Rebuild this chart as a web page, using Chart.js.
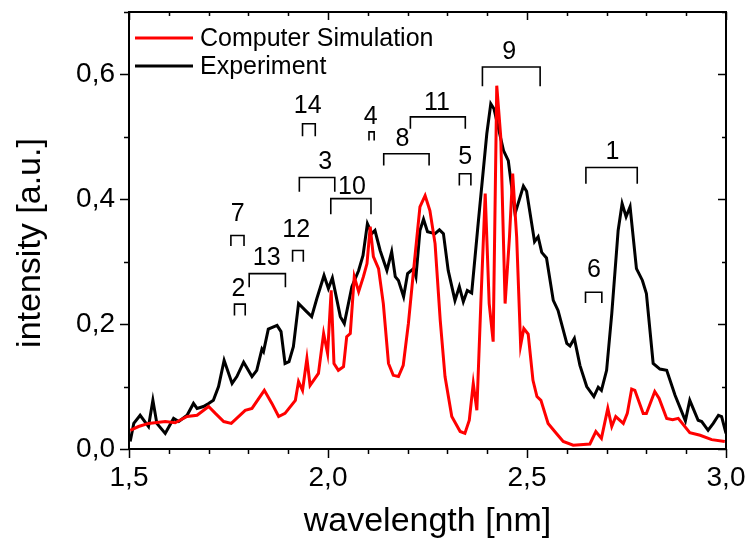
<!DOCTYPE html>
<html>
<head>
<meta charset="utf-8">
<script src="https://cdn.jsdelivr.net/npm/chart.js@4.4.1/dist/chart.umd.min.js"></script>
<style>
  html, body { margin: 0; padding: 0; background: #fff; }
  #wrap { width: 749px; height: 552px; }
</style>
</head>
<body>
<div id="wrap"><canvas id="spectrum" width="749" height="552"></canvas></div>
<script>
// Spectrum data
var simWavelength = [1.503, 1.524, 1.549, 1.591, 1.616, 1.646, 1.671, 1.700, 1.717, 1.738, 1.757, 1.792, 1.809, 1.840,
  1.859, 1.876, 1.892, 1.918, 1.926, 1.936, 1.947, 1.955, 1.976, 1.989, 1.999, 2.008, 2.015, 2.026, 2.039, 2.047,
  2.056, 2.066, 2.077, 2.089, 2.098, 2.106, 2.114, 2.127, 2.139, 2.152, 2.164, 2.177, 2.189, 2.202, 2.215, 2.231,
  2.244, 2.256, 2.269, 2.282, 2.294, 2.311, 2.332, 2.344, 2.355, 2.365, 2.374, 2.384, 2.395, 2.405, 2.415, 2.424,
  2.434, 2.445, 2.456, 2.464, 2.474, 2.484, 2.492, 2.503, 2.515, 2.525, 2.535, 2.553, 2.575, 2.591, 2.616, 2.658,
  2.673, 2.687, 2.703, 2.713, 2.723, 2.742, 2.752, 2.763, 2.771, 2.792, 2.800, 2.821, 2.832, 2.851, 2.866, 2.880,
  2.909, 2.935, 2.964, 2.997];
var simIntensity = [0.030, 0.036, 0.041, 0.044, 0.042, 0.052, 0.054, 0.068, 0.057, 0.044, 0.041, 0.062, 0.065, 0.094,
  0.073, 0.052, 0.057, 0.078, 0.108, 0.094, 0.145, 0.102, 0.121, 0.185, 0.153, 0.254, 0.137, 0.126, 0.132, 0.180,
  0.185, 0.276, 0.252, 0.276, 0.297, 0.356, 0.308, 0.289, 0.233, 0.137, 0.118, 0.116, 0.134, 0.201, 0.286, 0.388,
  0.406, 0.382, 0.329, 0.206, 0.116, 0.052, 0.028, 0.025, 0.046, 0.105, 0.062, 0.233, 0.409, 0.233, 0.172, 0.582,
  0.500, 0.233, 0.340, 0.441, 0.340, 0.166, 0.193, 0.184, 0.110, 0.084, 0.078, 0.041, 0.024, 0.012, 0.006, 0.008,
  0.028, 0.017, 0.065, 0.036, 0.052, 0.041, 0.057, 0.096, 0.094, 0.057, 0.057, 0.092, 0.081, 0.049, 0.047, 0.049,
  0.026, 0.022, 0.015, 0.012];

var expWavelength = [1.503, 1.512, 1.528, 1.549, 1.560, 1.570, 1.591, 1.612, 1.625, 1.646, 1.662, 1.671, 1.687, 1.700,
  1.712, 1.725, 1.739, 1.759, 1.771, 1.788, 1.809, 1.821, 1.834, 1.838, 1.850, 1.872, 1.882, 1.892, 1.902, 1.913,
  1.926, 1.943, 1.959, 1.972, 1.990, 2.001, 2.011, 2.031, 2.041, 2.060, 2.077, 2.088, 2.099, 2.110, 2.118, 2.131,
  2.148, 2.160, 2.169, 2.177, 2.190, 2.200, 2.215, 2.221, 2.231, 2.240, 2.250, 2.269, 2.280, 2.290, 2.302, 2.319,
  2.330, 2.340, 2.350, 2.361, 2.378, 2.399, 2.409, 2.417, 2.441, 2.453, 2.470, 2.491, 2.499, 2.519, 2.528, 2.537,
  2.549, 2.566, 2.578, 2.600, 2.608, 2.619, 2.633, 2.650, 2.668, 2.679, 2.687, 2.700, 2.713, 2.729, 2.739, 2.749,
  2.759, 2.775, 2.790, 2.800, 2.817, 2.834, 2.851, 2.872, 2.898, 2.909, 2.930, 2.939, 2.955, 2.968, 2.981, 2.989,
  3.000];
var expIntensity = [0.012, 0.041, 0.054, 0.036, 0.078, 0.041, 0.025, 0.049, 0.044, 0.054, 0.073, 0.065, 0.068, 0.073,
  0.078, 0.100, 0.142, 0.105, 0.116, 0.139, 0.116, 0.126, 0.160, 0.156, 0.192, 0.198, 0.188, 0.137, 0.140, 0.164,
  0.233, 0.222, 0.212, 0.241, 0.278, 0.257, 0.274, 0.212, 0.201, 0.260, 0.286, 0.310, 0.361, 0.345, 0.350, 0.318,
  0.286, 0.316, 0.276, 0.270, 0.244, 0.281, 0.289, 0.276, 0.350, 0.368, 0.348, 0.345, 0.351, 0.345, 0.286, 0.238,
  0.260, 0.236, 0.254, 0.250, 0.366, 0.505, 0.553, 0.545, 0.478, 0.462, 0.377, 0.421, 0.413, 0.332, 0.340, 0.315,
  0.306, 0.238, 0.222, 0.169, 0.165, 0.177, 0.134, 0.100, 0.084, 0.099, 0.094, 0.126, 0.217, 0.350, 0.393, 0.372,
  0.388, 0.289, 0.270, 0.249, 0.137, 0.128, 0.126, 0.086, 0.045, 0.078, 0.046, 0.044, 0.030, 0.041, 0.054, 0.052,
  0.025];

var seriesNames = ['Computer Simulation', 'Experiment'];
var xTicks = [1.5, 2.0, 2.5, 3.0];
var yTicks = [0.0, 0.2, 0.4, 0.6];

// transition brackets: label, start/end wavelength, top intensity, leg end, label position
var bracketLabel = ['14', '4', '3', '10', '8', '11', '5', '7', '12', '13', '2', '9', '1', '6'];
var bracketStart = [1.936, 2.103, 1.928, 2.007, 2.140, 2.207, 2.330, 1.756, 1.911, 1.802, 1.765, 2.388, 2.648, 2.647];
var bracketEnd = [1.968, 2.116, 2.017, 2.108, 2.254, 2.345, 2.359, 1.789, 1.938, 1.893, 1.792, 2.533, 2.777, 2.688];
var bracketTop = [0.521, 0.508, 0.435, 0.401, 0.473, 0.532, 0.441, 0.342, 0.318, 0.281, 0.232, 0.612, 0.451, 0.251];
var bracketBase = [0.501, 0.494, 0.412, 0.376, 0.454, 0.513, 0.422, 0.325, 0.300, 0.259, 0.214, 0.581, 0.425, 0.234];
var labelX = [1.949, 2.107, 1.993, 2.060, 2.187, 2.274, 2.345, 1.773, 1.920, 1.846, 1.775, 2.455, 2.715, 2.668];
var labelY = [0.549, 0.532, 0.460, 0.420, 0.497, 0.554, 0.468, 0.376, 0.350, 0.305, 0.256, 0.635, 0.476, 0.286];

var FONT = '"Liberation Sans", Arial, sans-serif';

function toPoints(xs, ys) {
  return xs.map(function (x, i) { return { x: x, y: ys[i] }; });
}

function commaLabel(v) {
  return v.toFixed(1).replace('.', ',');
}

// box frame with outside ticks bottom/left and mirrored inside ticks top/right
var frameTicks = {
  id: 'frameTicks',
  afterDraw: function (chart) {
    var ctx = chart.ctx, a = chart.chartArea;
    var xs = chart.scales.x, ys = chart.scales.y;
    ctx.save();
    ctx.strokeStyle = '#000';
    ctx.lineWidth = 1.5;
    ctx.beginPath();
    for (var i = 0; i <= 15; i++) {
      var v = 1.5 + i * 0.1;
      var px = Math.round(xs.getPixelForValue(v)) + 0.5;
      var major = (i % 5 === 0);
      ctx.moveTo(px, a.bottom);
      ctx.lineTo(px, a.bottom + (major ? 9 : 5));
      ctx.moveTo(px, a.top);
      ctx.lineTo(px, a.top + (major ? 8 : 4));
    }
    for (var j = 0; j <= 7; j++) {
      var py = Math.round(ys.getPixelForValue(j * 0.1)) + 0.5;
      var maj = (j % 2 === 0);
      ctx.moveTo(a.left, py);
      ctx.lineTo(a.left - (maj ? 9 : 5), py);
      ctx.moveTo(a.right, py);
      ctx.lineTo(a.right - (maj ? 8 : 4), py);
    }
    ctx.stroke();
    ctx.lineWidth = 2;
    ctx.strokeRect(a.left, a.top, a.right - a.left, a.bottom - a.top);

    // y axis title, sits a bit below the plot's mid height
    ctx.font = '34px ' + FONT;
    ctx.fillStyle = '#000';
    ctx.textAlign = 'center';
    ctx.textBaseline = 'middle';
    ctx.translate(31, 243);
    ctx.rotate(-Math.PI / 2);
    ctx.fillText('intensity [a.u.]', 0, 0);
    ctx.restore();
  }
};

var brackets = {
  id: 'brackets',
  afterDatasetsDraw: function (chart) {
    var ctx = chart.ctx;
    var xs = chart.scales.x, ys = chart.scales.y;
    ctx.save();
    ctx.strokeStyle = '#000';
    ctx.lineWidth = 1.6;
    ctx.fillStyle = '#000';
    ctx.font = '25px ' + FONT;
    ctx.textAlign = 'center';
    ctx.textBaseline = 'middle';
    bracketLabel.forEach(function (lbl, i) {
      var x1 = xs.getPixelForValue(bracketStart[i]);
      var x2 = xs.getPixelForValue(bracketEnd[i]);
      var yt = ys.getPixelForValue(bracketTop[i]);
      var yb = ys.getPixelForValue(bracketBase[i]);
      ctx.beginPath();
      ctx.moveTo(x1, yb);
      ctx.lineTo(x1, yt);
      ctx.lineTo(x2, yt);
      ctx.lineTo(x2, yb);
      ctx.stroke();
      ctx.fillText(lbl, xs.getPixelForValue(labelX[i]), ys.getPixelForValue(labelY[i]));
    });
    ctx.restore();
  }
};

var insideLegend = {
  id: 'insideLegend',
  afterDraw: function (chart) {
    var ctx = chart.ctx, a = chart.chartArea;
    ctx.save();
    ctx.font = '25px ' + FONT;
    ctx.textAlign = 'left';
    ctx.textBaseline = 'middle';
    chart.data.datasets.forEach(function (ds, i) {
      var y = a.top + 26 + i * 28;
      ctx.strokeStyle = ds.borderColor;
      ctx.lineWidth = 3;
      ctx.beginPath();
      ctx.moveTo(a.left + 6, y);
      ctx.lineTo(a.left + 64, y);
      ctx.stroke();
      ctx.fillStyle = '#000';
      ctx.fillText(ds.label, a.left + 71, y + 1);
    });
    ctx.restore();
  }
};

new Chart(document.getElementById('spectrum'), {
  type: 'scatter',
  data: {
    datasets: [{
      label: seriesNames[0],
      data: toPoints(simWavelength, simIntensity),
      showLine: true,
      borderColor: '#ff0000',
      borderWidth: 3,
      pointRadius: 0,
      tension: 0
    }, {
      label: seriesNames[1],
      data: toPoints(expWavelength, expIntensity),
      showLine: true,
      borderColor: '#000000',
      borderWidth: 3,
      pointRadius: 0,
      tension: 0
    }]
  },
  options: {
    responsive: false,
    animation: false,
    devicePixelRatio: 1,
    layout: { padding: { top: 12, right: 23, left: 0, bottom: 0 } },
    plugins: {
      legend: { display: false },
      tooltip: { enabled: false }
    },
    scales: {
      x: {
        type: 'linear',
        min: 1.5,
        max: 3.0,
        afterFit: function (scale) {
          scale.height = 103;
          scale.paddingLeft = 0;
          scale.paddingRight = 0;
        },
        afterBuildTicks: function (scale) {
          scale.ticks = xTicks.map(function (v) { return { value: v }; });
        },
        grid: { display: false, drawTicks: false },
        border: { display: false },
        ticks: {
          padding: 12,
          color: '#000',
          font: { family: FONT, size: 28 },
          maxRotation: 0,
          callback: function (v) { return commaLabel(v); }
        },
        title: {
          display: true,
          text: 'wavelength [nm]',
          color: '#000',
          font: { family: FONT, size: 34 },
          padding: { top: 0, bottom: 10 }
        }
      },
      y: {
        type: 'linear',
        min: 0,
        max: 0.7,
        afterFit: function (scale) {
          scale.width = 129;
          scale.paddingTop = 0;
          scale.paddingBottom = 0;
        },
        afterBuildTicks: function (scale) {
          scale.ticks = yTicks.map(function (v) { return { value: v }; });
        },
        grid: { display: false, drawTicks: false },
        border: { display: false },
        ticks: {
          padding: 14,
          color: '#000',
          font: { family: FONT, size: 28 },
          callback: function (v) { return commaLabel(v); }
        },
        title: { display: false }
      }
    }
  },
  plugins: [frameTicks, brackets, insideLegend]
});
</script>
</body>
</html>
